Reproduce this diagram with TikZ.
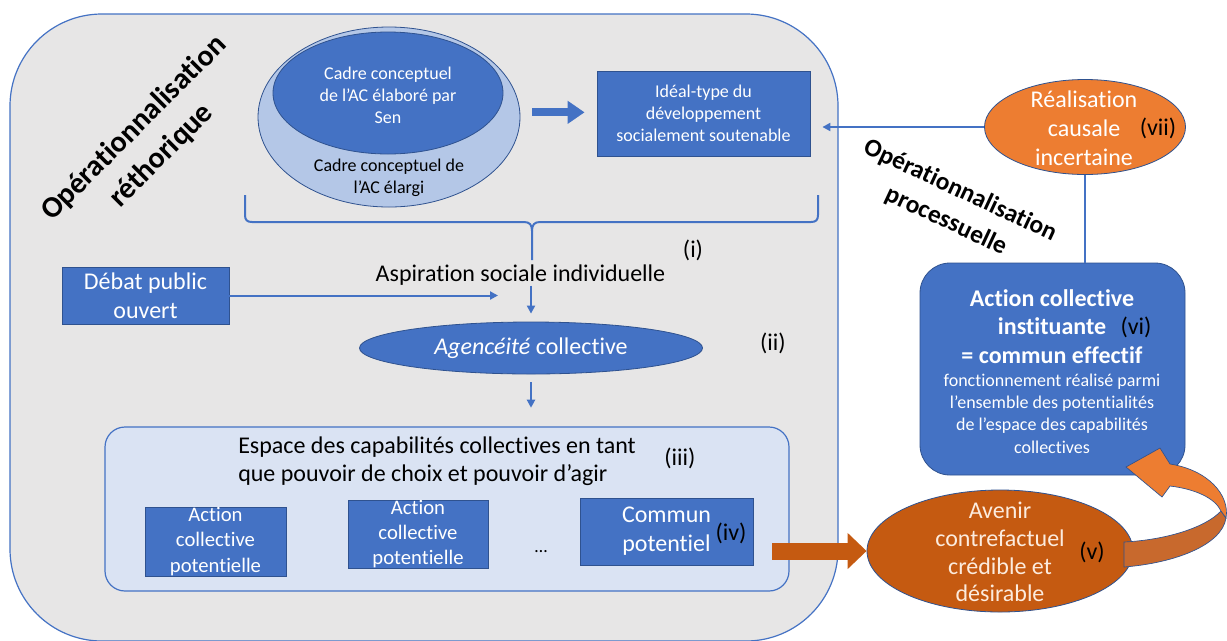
\documentclass[tikz,border=0pt]{standalone}
\usepackage{fontspec}
\setmainfont{Carlito}[Ligatures=NoCommon]
\usepackage{xcolor}
\usepackage{tikz}
\usetikzlibrary{shapes.geometric,arrows.meta}

\definecolor{acblue}{HTML}{4472C4}
\definecolor{acline}{HTML}{2F528F}
\definecolor{aclight}{HTML}{B4C7E7}
\definecolor{acpale}{HTML}{DAE3F3}
\definecolor{acgrey}{HTML}{E7E6E6}
\definecolor{acorange}{HTML}{ED7D31}
\definecolor{acrust}{HTML}{C55A11}
\definecolor{acband}{HTML}{C8692D}
\definecolor{accream}{HTML}{FCEBDD}

\begin{document}
\begin{tikzpicture}[x=0.75pt,y=0.75pt,yscale=-1,xscale=1,
  every node/.style={inner sep=0pt},
  bluebox/.style={rectangle, draw=acline, line width=0.6pt, fill=acblue, text=white, align=center},
  oval/.style={ellipse, draw=acline, line width=0.6pt},
  txtL/.style={font=\fontsize{18}{21.6}\selectfont, align=center},
  txtM/.style={font=\fontsize{15.5}{18.8}\selectfont, align=center},
  txtS/.style={font=\fontsize{13.5}{16.5}\selectfont, align=center},
  tag/.style={font=\fontsize{18}{21}\selectfont, text=black},
  conn/.style={draw=acblue, line width=1.5pt, -{Triangle[length=6pt,width=6pt]}},
  bracel/.style={draw=acblue, line width=1.5pt}]
\useasboundingbox (0,0) rectangle (1227,640);
\fill[white] (0,0) rectangle (1227,640);

%Shape: Rounded Rect (grey frame)
\draw[draw=acblue, line width=0.9pt, fill=acgrey, rounded corners=69pt] (10,14) rectangle (838,641);

%Shape: Ellipse
\node[oval, fill=aclight, minimum width=196.5pt, minimum height=135pt] (cadre) at (389,117) {};
\node[oval, fill=acblue, minimum width=172.5pt, minimum height=91.5pt] (sen) at (388,93) {};
% Text Node
\node[txtS, text=white] (sentxt) at (388,95) {Cadre conceptuel\\de l’AC élaboré par\\Sen};
% Text Node
\node[txtS, text=black] (cadretxt) at (389,178) {Cadre conceptuel de\\l’AC élargi};

%Shape: Rectangle
\node[bluebox, txtS, minimum width=159.75pt, minimum height=63.75pt] (ideal) at (703.5,113.5) {Idéal-type du\\développement\\socialement soutenable};
% Connection
\draw[draw=acblue, line width=6pt, -{Triangle[length=12.75pt,width=16.5pt]}, shorten >=9pt] ([xshift=9pt,yshift=-3.5pt]cadre.east) -- ([yshift=-3.5pt]cadre.east -| ideal.west);

%Shape: Brace
\draw[bracel] (245,195) -- (245,215) .. controls (245,220) and (247,222) .. (252,222) -- (524,222) .. controls (530,222) and (532,225) .. (532,231) -- (532,260);
\draw[bracel] (532,231) .. controls (532,225) and (534,222) .. (540,222) -- (811,222) .. controls (816,222) and (818,220) .. (818,215) -- (818,195);

% Text Node
\node[txtL, text=black] (asp) at (520.5,275) {Aspiration sociale individuelle};
\node[tag] (tagi) at (693,250) {(i)};

%Shape: Rectangle
\node[bluebox, txtL, minimum width=125.25pt, minimum height=42.75pt] (debat) at (145.5,295.5) {Débat public\\ouvert};
\coordinate (aspin) at (498,298);
% Connection
\draw[conn] (debat.east) -- (debat.east -| aspin);

%Shape: Ellipse
\node[oval, fill=acblue, minimum width=257.25pt, minimum height=39pt, txtL, text=white] (agence) at (531,348) {\textit{Agencéité} collective};
\node[tag] (tagii) at (773,343) {(ii)};
% Connection
\draw[conn, shorten >=6pt] (asp.south -| agence.north) -- (agence.north);

%Shape: Rounded Rect
\node[rectangle, rounded corners=15pt, draw=acblue, line width=0.9pt, fill=acpale, minimum width=513pt, minimum height=123pt] (espace) at (447,509) {};
% Connection
\draw[conn, shorten <=6pt, shorten >=14pt] (agence.south) -- (agence.south |- espace.north);
% Text Node
\node[txtL, align=left, anchor=west, text=black, font=\fontsize{18}{21}\selectfont] (espacetxt) at (238,461) {Espace des capabilités collectives en tant\\que pouvoir de choix et pouvoir d’agir};
\node[tag] (tagiii) at (680,458) {(iii)};

%Shape: Rectangle
\node[bluebox, txtM, minimum width=105.75pt, minimum height=51.75pt] (pota) at (215.5,541.5) {Action\\collective\\potentielle};
\node[bluebox, txtM, minimum width=105pt, minimum height=51pt] (potb) at (418,534) {Action\\collective\\potentielle};
\node[txtS] (dots) at (541,552) {…};
\node[bluebox, txtL, minimum width=129.75pt, minimum height=50.25pt] (commun) at (666.5,531.5) {Commun\\potentiel};
\node[tag] (tagiv) at (731,533) {(iv)};

%Shape: Ellipse
\node[oval, fill=acrust, minimum width=199.5pt, minimum height=91.5pt] (avenir) at (1000,551) {};
% Text Node
\node[txtL, text=accream, font=\fontsize{18}{20.8}\selectfont] (avenirtxt) at (1000,552) {Avenir\\contrefactuel\\crédible et\\désirable};
\node[tag] (tagv) at (1092,552) {(v)};
% Connection
\draw[draw=acrust, line width=12.75pt, -{Triangle[length=14.25pt,width=26.25pt]}] ([xshift=14pt]commun.east |- avenir.west) -- (avenir.west);

%Shape: Rounded Rect
\node[bluebox, rounded corners=22.5pt, minimum width=198.75pt, minimum height=159pt] (action) at (1052.5,369) {};
% Text Node
\node[font=\bfseries\fontsize{18}{21.4}\selectfont, text=white, align=center] (acttitle) at (1052,326.5) {Action collective\\instituante\\= commun effectif};
\node[txtS, text=white, font=\fontsize{13.5}{16.7}\selectfont] (actdesc) at (1052,413.5) {fonctionnement réalisé parmi\\l’ensemble des potentialités\\de l’espace des capabilités\\collectives};
\node[tag] (tagvi) at (1136,327) {(vi)};

%Shape: Ellipse
\node[oval, fill=acorange, minimum width=150.75pt, minimum height=71.25pt] (real) at (1085,127) {};
% Text Node
\node[txtL, text=white] (realtxt) at (1084,128.5) {Réalisation\\causale\\incertaine};
\node[tag] (tagvii) at (1158,128) {(vii)};
% Connection
\draw[conn, shorten >=9pt] (real.west) -- (real.west -| ideal.east);
\draw[bracel] (real.south) -- (real.south |- action.north);

%Shape: Curved Arrow
\draw[draw=acline, line width=0.5pt, fill=acband] (1124,542) -- (1124,567) .. controls (1175,563) and (1222,545) .. (1226,518) -- (1221,511) .. controls (1205,528) and (1165,540) .. (1124,542) -- cycle;
\draw[draw=acline, line width=0.5pt, fill=acorange] (1221,511) -- (1226,518) .. controls (1230,495) and (1208,470) .. (1170,464) -- (1160,448) -- (1126,467) -- (1162,497) -- (1170,486) .. controls (1195,489) and (1215,498) .. (1221,511) -- cycle;

% Text Node
\node[font=\bfseries\fontsize{22.5}{29}\selectfont, rotate=45, align=center] (rheto) at (148,142) {Opérationnalisation\\réthorique};
\node[font=\bfseries\fontsize{19}{25}\selectfont, rotate=-25, align=center] (proces) at (953,206) {Opérationnalisation\\processuelle};

\end{tikzpicture}
\end{document}
